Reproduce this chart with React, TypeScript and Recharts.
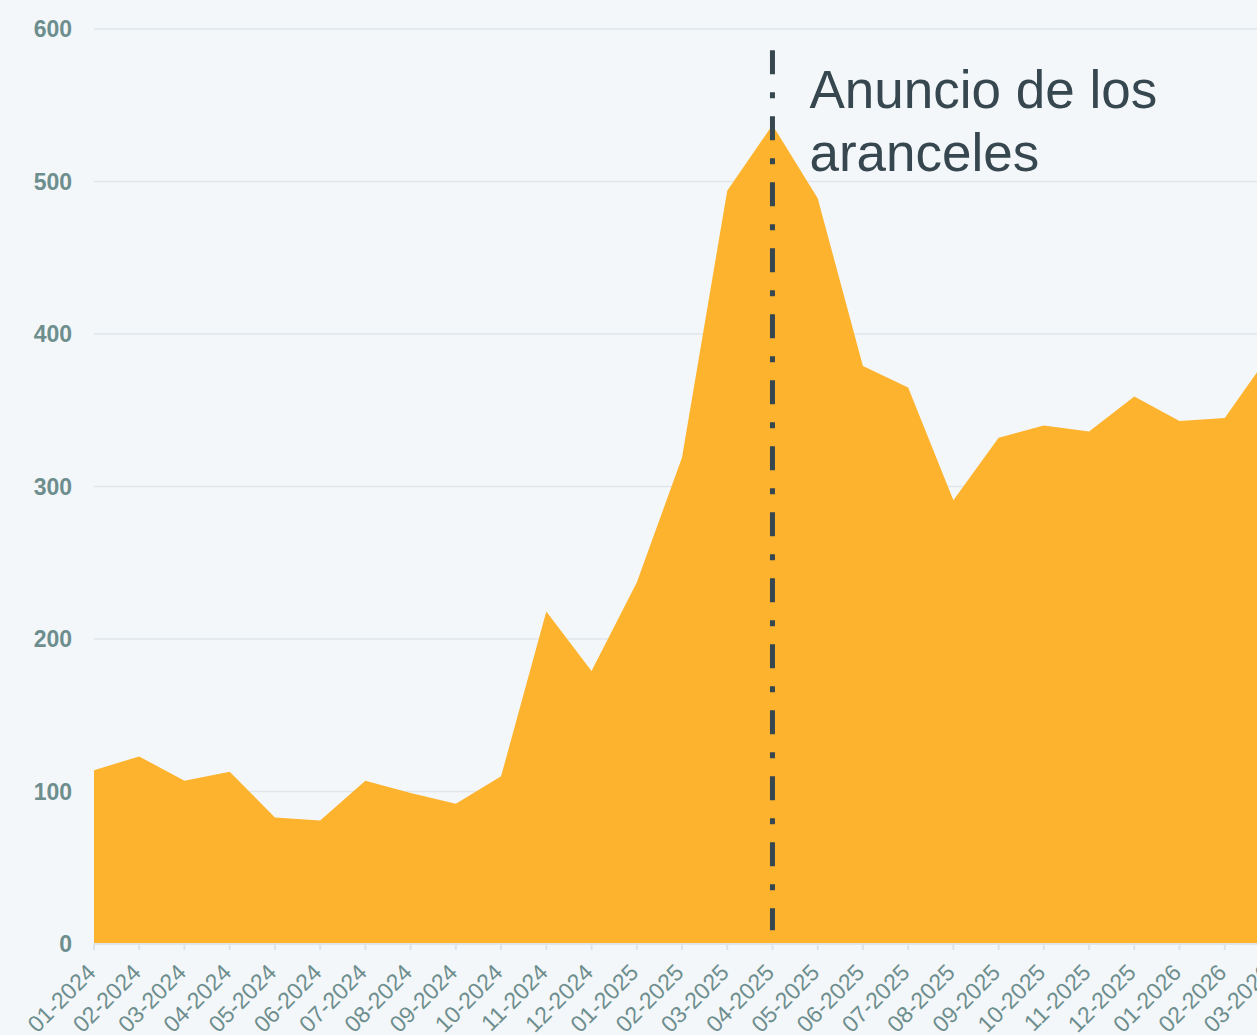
import React from 'react';
import {
  AreaChart,
  Area,
  XAxis,
  YAxis,
  CartesianGrid,
  ReferenceLine,
} from 'recharts';

const months = [
  '01-2024', '02-2024', '03-2024', '04-2024', '05-2024', '06-2024',
  '07-2024', '08-2024', '09-2024', '10-2024', '11-2024', '12-2024',
  '01-2025', '02-2025', '03-2025', '04-2025', '05-2025', '06-2025',
  '07-2025', '08-2025', '09-2025', '10-2025', '11-2025', '12-2025',
  '01-2026', '02-2026', '03-2026',
];

const values = [
  114, 123, 107, 113, 83, 81,
  107, 99, 92, 110, 218, 179,
  237, 319, 494, 537, 489, 379,
  365, 291, 332, 340, 336, 359,
  343, 345, 387,
];

const yTicks = [0, 100, 200, 300, 400, 500, 600];

const eventMonth = '04-2025';
const eventLines = ['Anuncio de los', 'aranceles'];
const eventTop = 586;
const eventBottom = 9;

const data = months.map((month, i) => ({ month, value: values[i] }));

const FONT = '"Liberation Sans", Arial, Helvetica, sans-serif';
const LABEL_COLOR = '#6e8e8e';

// rotated month labels, anchored at their end
function MonthTick(props: any) {
  const { x, y, payload } = props;
  return (
    <g transform={`translate(${x + 3},${y + 22}) rotate(-45)`}>
      <text
        x={0}
        y={0}
        textAnchor="end"
        fill={LABEL_COLOR}
        fontSize={23}
        fontFamily={FONT}
      >
        {payload.value}
      </text>
    </g>
  );
}

function EventLabel(props: any) {
  const { viewBox } = props;
  if (!viewBox) return null;
  const x = viewBox.x + 37;
  const y = viewBox.y + 58;
  return (
    <text x={x} y={y} fill="#37474f" fontSize={53} fontFamily={FONT}>
      {eventLines.map((line, i) => (
        <tspan key={line} x={x} dy={i === 0 ? 0 : 63}>
          {line}
        </tspan>
      ))}
    </text>
  );
}

export default function App() {
  return (
    <div
      style={{
        position: 'absolute',
        left: 0,
        top: 0,
        width: 1257,
        height: 1035,
        overflow: 'hidden',
        background: '#f3f7fa',
      }}
    >
      <AreaChart
        width={1291}
        height={1035}
        data={data}
        margin={{ top: 29, right: 21, left: 0, bottom: 0 }}
      >
        <CartesianGrid vertical={false} stroke="#e1e6ea" strokeWidth={1.5} />
        <XAxis
          dataKey="month"
          interval={0}
          height={91}
          axisLine={{ stroke: '#e0e5e9', strokeWidth: 2 }}
          tickLine={{ stroke: '#dde3e6', strokeWidth: 2 }}
          tickSize={6}
          tickMargin={2}
          tick={<MonthTick />}
        />
        <YAxis
          width={94}
          domain={[0, 600]}
          ticks={yTicks}
          axisLine={false}
          tickLine={false}
          tickSize={0}
          tickMargin={22}
          tick={{ fill: LABEL_COLOR, fontSize: 23, fontWeight: 700, fontFamily: FONT }}
        />
        <Area
          type="linear"
          dataKey="value"
          stroke="none"
          fill="#fdb32d"
          fillOpacity={1}
          isAnimationActive={false}
        />
        <ReferenceLine
          segment={[
            { x: eventMonth, y: eventTop },
            { x: eventMonth, y: eventBottom },
          ]}
          stroke="#37474f"
          strokeWidth={5}
          strokeDasharray="24 18 6 18"
          label={<EventLabel />}
        />
      </AreaChart>
    </div>
  );
}
